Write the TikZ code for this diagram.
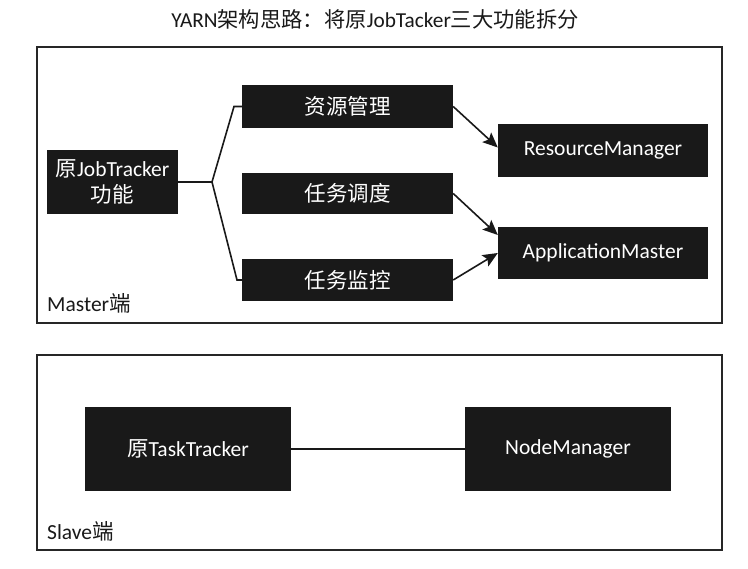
\documentclass[tikz,border=0pt]{standalone}
\usepackage{fontspec}
\setmainfont{Carlito}
\newfontfamily\cjk{Noto Sans CJK SC}
\newcommand\zh[1]{{\cjk #1}}
\usetikzlibrary{arrows.meta}
\begin{document}
\begin{tikzpicture}[x=1pt,y=-1pt,
  blk/.style={fill=black!90,draw=none,text=white,inner sep=0pt,align=center,
    font=\fontsize{21.5}{26}\selectfont},
  frame/.style={draw=black!85,line width=2.2pt},
  conn/.style={draw=black!90,line width=1.6pt},
  arr/.style={conn,-{Stealth[length=15pt,width=13pt,inset=3pt]}},
  lbl/.style={font=\fontsize{21.5}{26}\selectfont,text=black!90,inner sep=0pt},
]
\useasboundingbox[fill=white] (0,0) rectangle (748,569);
\node[lbl,font=\fontsize{21.3}{25}\selectfont] (title) at (375,19) {YARN\zh{架构思路：将原}JobTacker\zh{三大功能拆分}};

\node[frame,minimum width=685pt,minimum height=276pt,inner sep=0pt] (master) at (379.5,185) {};
\node[frame,minimum width=685pt,minimum height=195pt,inner sep=0pt] (slave) at (379.5,452.5) {};
\node[lbl,anchor=west] (mlab) at (47,303) {Master\zh{端}};
\node[lbl,anchor=west] (slab) at (47,531) {Slave\zh{端}};

\node[blk,minimum width=131pt,minimum height=64pt] (jt) at (112.5,182) {\zh{原}JobTracker\\\zh{功能}};
\node[blk,minimum width=211pt,minimum height=43pt] (zy) at (347.5,106.5) {\zh{资源管理}};
\node[blk,minimum width=211pt,minimum height=41pt] (rw) at (347.5,193.5) {\zh{任务调度}};
\node[blk,minimum width=211pt,minimum height=42pt] (jk) at (347.5,280) {\zh{任务监控}};
\node[blk,minimum width=210pt,minimum height=53pt] (rm) at (603,150.5) {ResourceManager};
\node[blk,minimum width=210pt,minimum height=52pt] (am) at (603,253) {ApplicationMaster};

\node[blk,minimum width=206pt,minimum height=84pt] (tt) at (188,449) {\zh{原}TaskTracker};
\node[blk,minimum width=206pt,minimum height=84pt] (nm) at (568,449) {NodeManager};

\coordinate (j) at (212,182);
\coordinate (ju) at (234,106.5);
\coordinate (jd) at (237,280);
\draw[conn] (jt.east) -- (j) -- (ju) -- (zy.west);
\draw[conn] (j) -- (jd) -- (jk.west);

\draw[arr] (zy.east) -- ([yshift=3pt]rm.west);
\draw[arr] (rw.east) -- ([yshift=18pt]am.west);
\draw[arr] (jk.east) -- (am.west);

\draw[conn] (tt.east) -- (nm.west);
\end{tikzpicture}
\end{document}
